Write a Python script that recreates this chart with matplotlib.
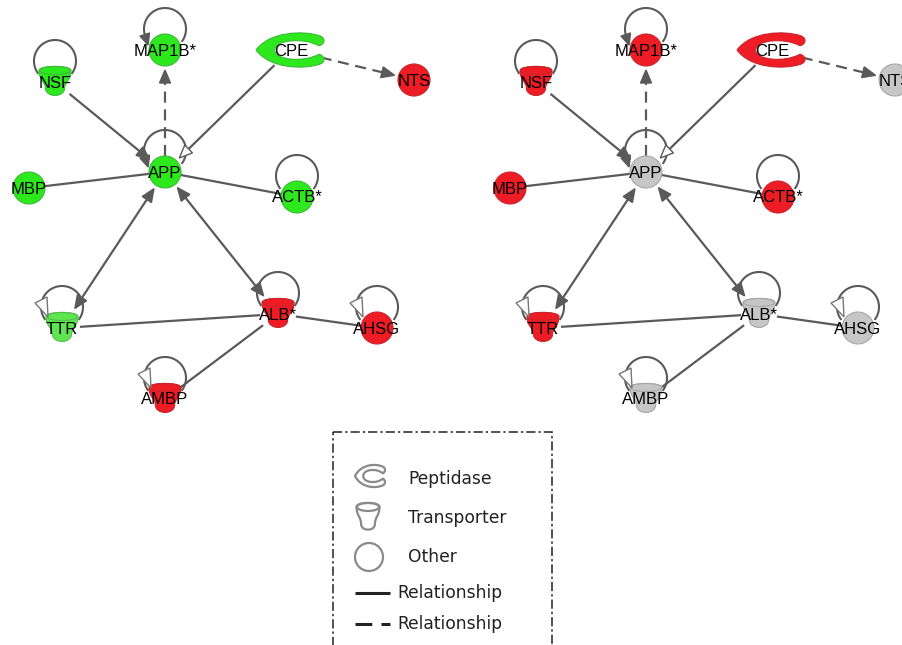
import numpy as np
import matplotlib.pyplot as plt
from matplotlib.path import Path
from matplotlib.patches import PathPatch, Circle, Polygon, Rectangle, Ellipse

# network nodes (layout of the left panel, in image pixels)
genes = ["NSF", "MAP1B*", "CPE", "NTS", "APP", "MBP", "ACTB*", "TTR", "ALB*", "AHSG", "AMBP"]
node_x = [55, 165, 290, 414, 165, 29, 297, 62, 278, 377, 165]
node_y = [82, 50, 50, 80, 172, 188, 197, 328, 314, 328, 399]
shape = ["transporter", "other", "peptidase", "other", "other", "other", "other",
         "transporter", "transporter", "other", "transporter"]
self_loop = ["plain", "arrow", "none", "none", "arrow", "none", "plain",
             "inhibit", "plain", "inhibit", "inhibit"]

# expression state per panel
left_state = ["down", "down", "down", "up", "down", "down", "down", "weak", "up", "up", "up"]
right_state = ["up", "up", "up", "none", "none", "up", "up", "up", "none", "none", "none"]
panel_shift = [0, 481]

# (source, target, line, heads)
edges = [
    ("NSF", "APP", "solid", "end"),
    ("APP", "MAP1B*", "dashed", "end"),
    ("CPE", "APP", "solid", "open"),
    ("CPE", "NTS", "dashed", "end"),
    ("MBP", "APP", "solid", "none"),
    ("APP", "ACTB*", "solid", "none"),
    ("APP", "TTR", "solid", "both"),
    ("APP", "ALB*", "solid", "both"),
    ("TTR", "ALB*", "solid", "none"),
    ("ALB*", "AHSG", "solid", "none"),
    ("ALB*", "AMBP", "solid", "none"),
]

legend_labels = ["Peptidase", "Transporter", "Other", "Relationship", "Relationship"]

FILL = {"down": "#2ee81e", "weak": "#5ee650", "up": "#ee1c25", "none": "#c6c6c6"}
EDGE_C = {"down": "#3fb83a", "weak": "#55c04c", "up": "#c8262c", "none": "#a8a8a8"}
LINE = "#5a5a5a"

fig = plt.figure(figsize=(9.03, 6.45), dpi=100)
ax = fig.add_axes([0, 0, 1, 1])
ax.set_xlim(0, 903)
ax.set_ylim(645, 0)
ax.axis("off")


def unit(v):
    return v / np.hypot(*v)


def reach(kind, d):
    # distance from node centre to its outline along direction d
    if kind == "other":
        return 16
    a, b = (34, 17) if kind == "peptidase" else (18, 20)
    return a * b / np.hypot(b * d[0], a * d[1])


def head(tip, d, L=13, W=11, fc=LINE, z=3):
    n = np.array([-d[1], d[0]])
    base = tip - d * L
    ax.add_patch(Polygon([tip, base + n * W / 2, base - n * W / 2], closed=True,
                         fc=fc, ec=LINE, lw=1, zorder=z))
    return base


def cup(cx, cy, w, h, fc, ec, lw=0.8, z=2):
    top, bot, hw = cy - h / 2, cy + h / 2, w / 2
    verts = [(cx - hw, top + 4),
             (cx - hw, top + h * 0.45), (cx - hw * 0.6, top + h * 0.5), (cx - hw * 0.6, bot - hw * 0.6),
             (cx - hw * 0.6, bot + 0.5), (cx + hw * 0.6, bot + 0.5), (cx + hw * 0.6, bot - hw * 0.6),
             (cx + hw * 0.6, top + h * 0.5), (cx + hw, top + h * 0.45), (cx + hw, top + 4),
             (cx + hw, top - 1.5), (cx - hw, top - 1.5), (cx - hw, top + 4),
             (cx - hw, top + 4)]
    codes = [Path.MOVETO] + [Path.CURVE4] * 12 + [Path.CLOSEPOLY]
    ax.add_patch(PathPatch(Path(verts, codes), fc=fc, ec=ec, lw=lw, zorder=z))
    ax.add_patch(Ellipse((cx, top + 4), w - 1, 8, fc=fc, ec=ec, lw=lw, zorder=z))


def peptidase(cx, cy, a, b, fc, ec, lw=0.8, z=2):
    pts = [(-1, 0),
           (-0.6, -1.1), (0.4, -1.15), (0.85, -0.85),
           (1.05, -0.75), (1.05, -0.35), (0.85, -0.25),
           (0.4, -0.75), (-0.45, -0.6), (-0.45, 0),
           (-0.45, 0.6), (0.4, 0.75), (0.85, 0.25),
           (1.05, 0.35), (1.05, 0.75), (0.85, 0.85),
           (0.4, 1.15), (-0.6, 1.1), (-1, 0),
           (-1, 0)]
    verts = [(cx + a * u, cy + b * v) for u, v in pts]
    codes = [Path.MOVETO] + [Path.CURVE4] * 18 + [Path.CLOSEPOLY]
    ax.add_patch(PathPatch(Path(verts, codes), fc=fc, ec=ec, lw=lw, zorder=z))


def draw_panel(shift, states):
    pos = {g: np.array([x + shift, y], float) for g, x, y in zip(genes, node_x, node_y)}
    kinds = dict(zip(genes, shape))

    for src, dst, ls, heads in edges:
        pa, pb = pos[src], pos[dst]
        d = unit(pb - pa)
        start = pa + d * reach(kinds[src], d)
        end = pb - d * reach(kinds[dst], -d)
        if heads in ("end", "both", "open"):
            end = end - d * 4
            end = head(end, d, fc="white" if heads == "open" else LINE)
        if heads == "both":
            start = start + d * 4
            start = head(start, -d)
        ax.plot([start[0], end[0]], [start[1], end[1]], color=LINE, lw=1.6,
                ls=(0, (5, 3)) if ls == "dashed" else "-", zorder=1,
                solid_capstyle="butt")

    for g, kind, loop in zip(genes, shape, self_loop):
        cx, cy = pos[g]
        if loop != "none":
            lx, ly, r = cx, cy - 21, 21
            t1 = 198 if loop == "arrow" else 215
            t = np.radians(np.linspace(-35, t1, 90))
            ax.plot(lx + r * np.cos(t), ly - r * np.sin(t), color=LINE, lw=1.5, zorder=1)
            if loop == "arrow":
                tt = np.radians(t1)
                p = np.array([lx + r * np.cos(tt), ly - r * np.sin(tt)])
                tan = unit(np.array([-np.sin(tt), -np.cos(tt)]))
                head(p + tan * 10, tan, L=11, W=10)
            elif loop == "inhibit":
                tri = [(lx - 27, ly - 4), (lx - 15, ly - 10), (lx - 14, ly + 10)]
                ax.add_patch(Polygon(tri, closed=True, fc="white", ec="#777777",
                                     lw=1, zorder=3))

    for g, kind, st in zip(genes, shape, states):
        cx, cy = pos[g]
        fc, ec = FILL[st], EDGE_C[st]
        if kind == "other":
            ax.add_patch(Circle((cx, cy), 16, fc=fc, ec=ec, lw=0.8, zorder=2))
        elif kind == "transporter":
            cup(cx, cy, 32, 31, fc, ec)
        else:
            peptidase(cx, cy, 34, 17, fc, ec)
        ax.text(cx + (1 if kind == "peptidase" else 0), cy + 1, g, ha="center", va="center",
                fontsize=12, family="Liberation Sans", color="#000000", zorder=4)


draw_panel(panel_shift[0], left_state)
draw_panel(panel_shift[1], right_state)

# legend box
ax.add_patch(Rectangle((333, 432), 219, 240, fill=False, ec="#222222", lw=1.1,
                       ls=(0, (6, 2, 1.5, 2)), zorder=1))
LG = "#8a8a8a"
peptidase(370, 476, 15, 11, "white", LG, lw=1.6)
cup(368, 517, 23, 28, "white", LG, lw=1.6)
ax.add_patch(Circle((369, 557), 14, fc="white", ec=LG, lw=1.6, zorder=2))
txt_y = [479, 518, 557, 593, 624]
txt_x = [408, 408, 408, 397, 397]
for s, x, y in zip(legend_labels, txt_x, txt_y):
    ax.text(x, y, s, ha="left", va="center", fontsize=12.3, family="DejaVu Sans",
            color="#222222", zorder=4)
ax.plot([355, 390], [593, 593], color="#222222", lw=2.2, solid_capstyle="butt")
ax.plot([355, 390], [624, 624], color="#222222", lw=2.2, ls=(0, (5.5, 3)))

fig.savefig("out.png", dpi=100)
